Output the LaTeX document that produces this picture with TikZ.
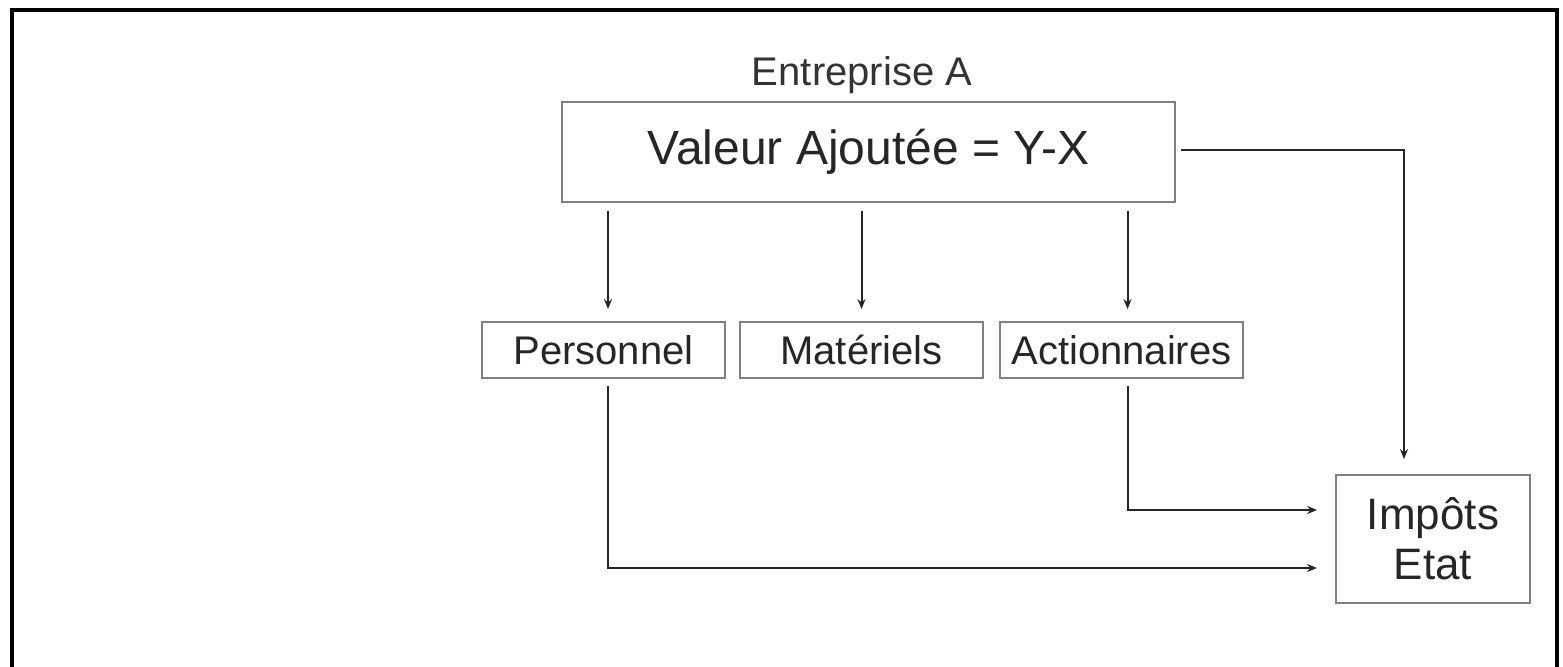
\documentclass[tikz,border=0pt]{standalone}
\usepackage{fontspec}
\setmainfont{Liberation Sans}
\usetikzlibrary{arrows.meta}
\begin{document}
\begin{tikzpicture}[x=0.5pt,y=-0.5pt,
  box/.style={draw=black!50, line width=0.9pt, inner sep=0pt, text=black!85},
  small/.style={box, minimum width=121.5pt, minimum height=28pt, font=\fontsize{20}{24}\selectfont},
  arr/.style={draw=black!85, line width=1pt, -{Stealth[length=5pt,width=4pt]}}]

 \useasboundingbox (0,0) rectangle (1563,667);
 \draw[line width=1.6pt] (12,690) -- (12,10) -- (1557,10) -- (1557,690);

 \node[text=black!80, font=\fontsize{20}{24}\selectfont] (title) at (862,75) {Entreprise A};
 \node[box, minimum width=306.5pt, minimum height=50pt, font=\fontsize{24}{28}\selectfont] (va) at (868.5,152) {Valeur Ajoutée = Y-X};
 \node[small] (pers) at (603.5,350) {Personnel};
 \node[small] (mat) at (861.5,350) {Matériels};
 \node[small] (act) at (1121.5,350) {Actionnaires};
 \node[box, minimum width=97pt, minimum height=64pt, align=center, font=\fontsize{22}{25}\selectfont] (imp) at (1433,539) {Impôts\\Etat};

 \draw[arr, shorten <=4pt, shorten >=6pt] (va.south -| pers.north) ++(2.25pt,0) -- ([xshift=2.25pt]pers.north);
 \draw[arr, shorten <=4pt, shorten >=6pt] (va.south -| mat.north) -- (mat.north);
 \draw[arr, shorten <=4pt, shorten >=6pt] ([xshift=3pt]va.south -| act.north) -- ([xshift=3pt]act.north);
 \draw[arr, shorten <=2.5pt, shorten >=7.5pt] ([yshift=1pt]va.east) -| ([xshift=-14.5pt]imp.north);
 \draw[arr, shorten <=3.5pt, shorten >=9pt] ([xshift=3pt]act.south) |- ([yshift=14.5pt]imp.west);
 \draw[arr, shorten <=3.5pt, shorten >=9pt] ([xshift=2.25pt]pers.south) |- ([yshift=-14.5pt]imp.west);

\end{tikzpicture}
\end{document}
